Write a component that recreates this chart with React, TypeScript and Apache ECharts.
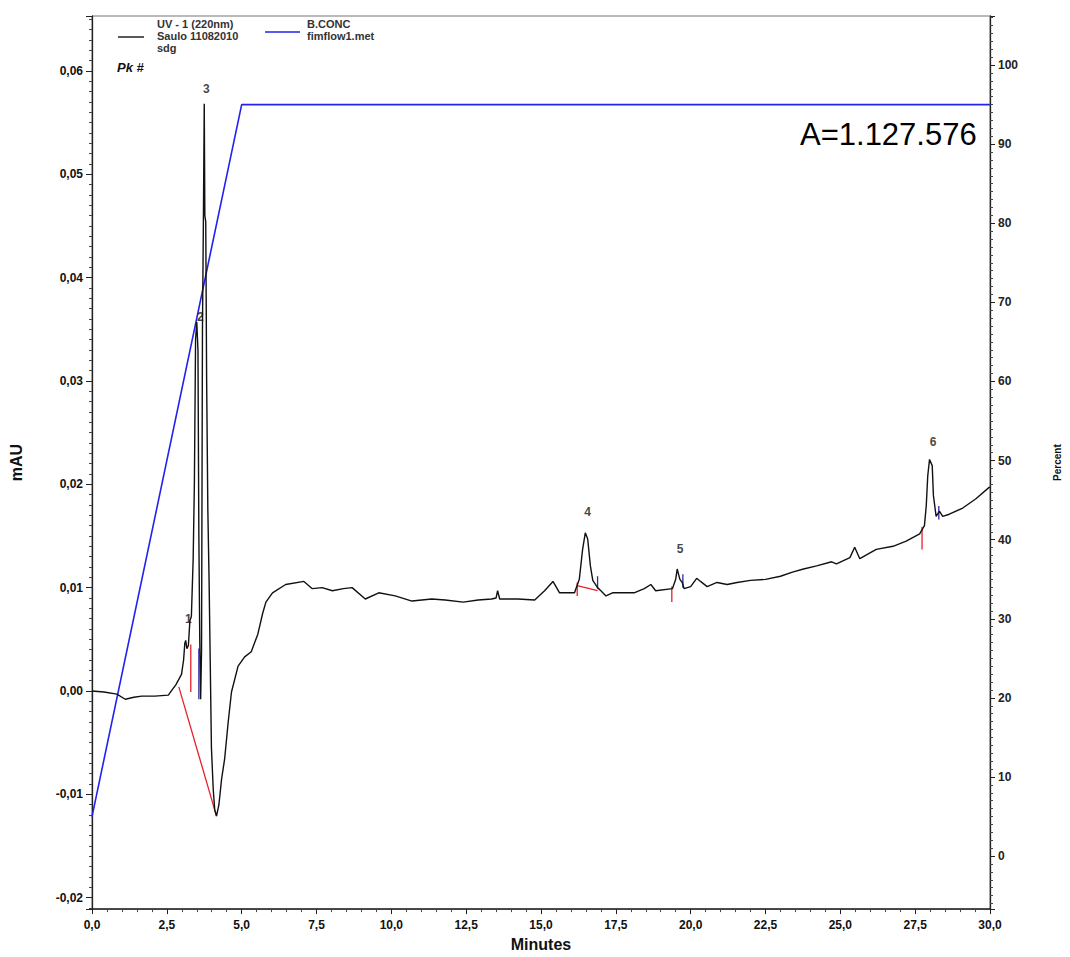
import React, { useEffect, useRef } from 'react';
import * as echarts from 'echarts';

// Chromatogram trace: UV-1 (220nm), retention time (min) vs absorbance (mAU)
const times = [
  0.0, 0.4, 0.83, 1.11, 1.4, 1.66, 2.1, 2.55, 2.7, 2.8, 2.99, 3.06, 3.1, 3.13, 3.17, 3.22, 3.27, 3.32,
  3.35, 3.38, 3.42, 3.46, 3.5, 3.54, 3.57, 3.6, 3.63, 3.66, 3.69, 3.72, 3.75, 3.77, 3.8, 3.83, 3.87,
  3.91, 3.95, 3.99, 4.05, 4.1, 4.16, 4.24, 4.33, 4.43, 4.55, 4.66, 4.88, 5.1, 5.32, 5.54, 5.7, 5.81,
  6.03, 6.47, 7.08, 7.36, 7.69, 8.03, 8.4, 8.69, 9.13, 9.58, 10.13, 10.69, 11.35, 11.8, 12.4, 12.9,
  13.35, 13.5, 13.55, 13.62, 14.23, 14.79, 15.12, 15.4, 15.62, 16.12, 16.28, 16.39, 16.48, 16.56,
  16.65, 16.73, 16.89, 17.0, 17.17, 17.39, 18.11, 18.45, 18.67, 18.83, 19.39, 19.5, 19.55, 19.64,
  19.72, 19.78, 20.0, 20.2, 20.33, 20.55, 20.88, 21.22, 21.55, 22.0, 22.5, 23.0, 23.4, 23.77, 24.21,
  24.71, 24.87, 25.32, 25.48, 25.65, 26.2, 26.76, 27.2, 27.65, 27.81, 27.87, 27.92, 27.98, 28.07,
  28.11, 28.2, 28.31, 28.42, 28.64, 29.09, 29.53, 29.97, 30.0,
];
const mau = [
  0.0, -0.0001, -0.0003, -0.0008, -0.0006, -0.0005, -0.0005, -0.0004, 0.0002, 0.0006, 0.0016, 0.003,
  0.0046, 0.0049, 0.0041, 0.0044, 0.0068, 0.0072, 0.01, 0.0128, 0.02, 0.034, 0.0357, 0.033, 0.015,
  0.005, -0.0008, 0.004, 0.035, 0.045, 0.0568, 0.046, 0.0454, 0.03, 0.0175, 0.011, 0.0028, -0.0055,
  -0.0095, -0.0115, -0.0121, -0.011, -0.0085, -0.0066, -0.003, -0.0001, 0.0024, 0.0033, 0.0038,
  0.0055, 0.0075, 0.0086, 0.0095, 0.0103, 0.0106, 0.0099, 0.01, 0.0097, 0.0099, 0.01, 0.0089, 0.0095,
  0.0092, 0.0087, 0.0089, 0.0088, 0.0086, 0.0088, 0.0089, 0.009, 0.0097, 0.0089, 0.0089, 0.0088,
  0.0097, 0.0106, 0.0095, 0.0095, 0.0108, 0.0137, 0.0153, 0.0147, 0.0121, 0.0107, 0.01, 0.0097,
  0.0092, 0.0095, 0.0095, 0.0099, 0.0103, 0.0097, 0.0099, 0.0108, 0.0118, 0.0108, 0.0105, 0.0099,
  0.0101, 0.0109, 0.0106, 0.0101, 0.0105, 0.0103, 0.0105, 0.0107, 0.0108, 0.0111, 0.0115, 0.0118,
  0.0121, 0.0125, 0.0123, 0.0129, 0.0139, 0.0128, 0.0137, 0.014, 0.0145, 0.0152, 0.016, 0.0179,
  0.0208, 0.0224, 0.0218, 0.0189, 0.0169, 0.0174, 0.0169, 0.0171, 0.0177, 0.0186, 0.0197, 0.0197,
];

// Gradient program B.CONC (percent)
const gradientTimes = [0, 5, 30];
const gradientPercent = [5, 95, 95];

// Peak numbers
const peakNames = ['1', '2', '3', '4', '5', '6'];
const peakTimes = [3.22, 3.62, 3.82, 16.56, 19.65, 28.1];
const peakValues = [0.007, 0.0362, 0.0582, 0.0173, 0.0137, 0.0241];

// Integration baselines / delimiters [t1, v1, t2, v2]
const redMarks = [
  [2.9, 0.0004, 4.16, -0.0121],
  [3.3, 0.0045, 3.3, -0.0001],
  [16.21, 0.0105, 16.21, 0.0092],
  [16.21, 0.0102, 16.89, 0.0097],
  [19.37, 0.0101, 19.37, 0.0086],
  [27.73, 0.0159, 27.73, 0.0137],
];
const blueMarks = [
  [3.57, 0.0041, 3.57, -0.0008],
  [16.89, 0.0111, 16.89, 0.0099],
  [19.74, 0.0113, 19.74, 0.01],
  [28.29, 0.0179, 28.29, 0.0166],
];

const xLabels = ['0,0', '2,5', '5,0', '7,5', '10,0', '12,5', '15,0', '17,5', '20,0', '22,5', '25,0', '27,5', '30,0'];

const NARROW = '"Liberation Sans Narrow", "Arial Narrow", "Liberation Sans", Arial, sans-serif';

export default function App() {
  const ref = useRef<HTMLDivElement>(null);
  useEffect(() => {
    const chart = echarts.init(ref.current!, null, { renderer: 'svg' });
    const markSeries = (marks: number[][], color: string) =>
      marks.map((m) => ({
        type: 'line',
        xAxisIndex: 0,
        yAxisIndex: 0,
        data: [
          [m[0], m[1]],
          [m[2], m[3]],
        ],
        showSymbol: false,
        symbol: 'none',
        silent: true,
        lineStyle: { color, width: 1.3 },
        z: 4,
      }));
    const option: any = {
      animation: false,
      backgroundColor: '#fff',
      grid: {
        left: 92,
        right: 76,
        top: 16,
        bottom: 47,
        show: true,
        borderColor: '#777',
        borderWidth: 1,
        backgroundColor: 'transparent',
      },
      xAxis: {
        type: 'value',
        min: 0,
        max: 30,
        interval: 2.5,
        name: 'Minutes',
        nameLocation: 'middle',
        nameGap: 26,
        nameTextStyle: { fontFamily: NARROW, fontWeight: 'bold', fontSize: 16, color: '#111' },
        axisLine: { show: true, onZero: false, lineStyle: { color: '#222', width: 1.5 } },
        axisTick: { show: true, length: 5, lineStyle: { color: '#222' } },
        minorTick: { show: true, splitNumber: 5, length: 3, lineStyle: { color: '#444' } },
        splitLine: { show: false },
        axisLabel: {
          margin: 10,
          fontFamily: NARROW,
          fontWeight: 'bold',
          fontSize: 12,
          color: '#111',
          formatter: (v: number) => {
            const i = Math.round(v / 2.5);
            return Math.abs(v - i * 2.5) < 1e-6 ? xLabels[i] ?? '' : '';
          },
        },
      },
      yAxis: [
        {
          type: 'value',
          position: 'left',
          min: -0.0211,
          max: 0.0653,
          minInterval: 0.01,
          maxInterval: 0.01,
          name: 'mAU',
          nameLocation: 'middle',
          nameGap: 68,
          nameRotate: 90,
          nameTextStyle: { fontFamily: NARROW, fontWeight: 'bold', fontSize: 16, color: '#111' },
          axisLine: { show: true, onZero: false, lineStyle: { color: '#222', width: 1.3 } },
          axisTick: { show: true, length: 6, lineStyle: { color: '#222' } },
          minorTick: { show: true, splitNumber: 10, length: 3, lineStyle: { color: '#444' } },
          splitLine: { show: false },
          axisLabel: {
            margin: 9,
            fontFamily: NARROW,
            fontWeight: 'bold',
            fontSize: 12,
            color: '#111',
            formatter: (v: number) => {
              const r = Math.round(v * 100);
              if (Math.abs(v * 100 - r) > 1e-6) return '';
              return (r / 100).toFixed(2).replace('.', ',');
            },
          },
        },
        {
          type: 'value',
          position: 'right',
          min: -6.7,
          max: 106.2,
          minInterval: 10,
          maxInterval: 10,
          name: 'Percent',
          nameLocation: 'middle',
          nameGap: 62,
          nameRotate: 90,
          nameTextStyle: { fontFamily: NARROW, fontWeight: 'bold', fontSize: 10, color: '#111' },
          axisLine: { show: true, onZero: false, lineStyle: { color: '#222', width: 1.3 } },
          axisTick: { show: true, length: 5, lineStyle: { color: '#222' } },
          minorTick: { show: true, splitNumber: 10, length: 3, lineStyle: { color: '#444' } },
          splitLine: { show: false },
          axisLabel: {
            margin: 8,
            fontFamily: NARROW,
            fontWeight: 'bold',
            fontSize: 12,
            color: '#222',
            formatter: (v: number) => {
              const r = Math.round(v / 10) * 10;
              return Math.abs(v - r) < 1e-6 ? String(r) : '';
            },
          },
        },
      ],
      series: [
        {
          type: 'line',
          name: 'B.CONC',
          xAxisIndex: 0,
          yAxisIndex: 1,
          data: gradientTimes.map((t, i) => [t, gradientPercent[i]]),
          showSymbol: false,
          symbol: 'none',
          lineStyle: { color: '#2222ee', width: 1.6 },
          z: 3,
        },
        {
          type: 'line',
          name: 'UV - 1 (220nm)',
          xAxisIndex: 0,
          yAxisIndex: 0,
          data: times.map((t, i) => [t, mau[i]]),
          showSymbol: false,
          symbol: 'none',
          lineStyle: { color: '#111', width: 1.4 },
          z: 5,
        },
        ...markSeries(redMarks, '#e8202a'),
        ...markSeries(blueMarks, '#2a2aa8'),
        {
          type: 'scatter',
          xAxisIndex: 0,
          yAxisIndex: 0,
          data: peakNames.map((n, i) => ({ name: n, value: [peakTimes[i], peakValues[i]] })),
          symbolSize: 2,
          itemStyle: { color: 'rgba(0,0,0,0)' },
          silent: true,
          label: {
            show: true,
            position: 'inside',
            formatter: (p: any) => p.name,
            fontFamily: NARROW,
            fontWeight: 'bold',
            fontSize: 12,
            color: '#111',
          },
          z: 6,
        },
      ],
      graphic: [
        { type: 'line', shape: { x1: 118, y1: 37, x2: 144, y2: 37 }, style: { stroke: '#222', lineWidth: 1.5 } },
        {
          type: 'text',
          x: 157,
          y: 24,
          style: { text: 'UV - 1 (220nm)', fontFamily: NARROW, fontWeight: 'bold', fontSize: 11, fill: '#333', verticalAlign: 'middle' },
        },
        {
          type: 'text',
          x: 157,
          y: 36,
          style: { text: 'Saulo 11082010', fontFamily: NARROW, fontWeight: 'bold', fontSize: 11, fill: '#333', verticalAlign: 'middle' },
        },
        {
          type: 'text',
          x: 157,
          y: 48,
          style: { text: 'sdg', fontFamily: NARROW, fontWeight: 'bold', fontSize: 11, fill: '#333', verticalAlign: 'middle' },
        },
        { type: 'line', shape: { x1: 265, y1: 32, x2: 300, y2: 32 }, style: { stroke: '#2222ee', lineWidth: 1.5 } },
        {
          type: 'text',
          x: 307,
          y: 24,
          style: { text: 'B.CONC', fontFamily: NARROW, fontWeight: 'bold', fontSize: 11, fill: '#333', verticalAlign: 'middle' },
        },
        {
          type: 'text',
          x: 307,
          y: 36,
          style: { text: 'fimflow1.met', fontFamily: NARROW, fontWeight: 'bold', fontSize: 11, fill: '#333', verticalAlign: 'middle' },
        },
        {
          type: 'text',
          x: 117,
          y: 67,
          style: { text: 'Pk #', fontFamily: NARROW, fontWeight: 'bold', fontStyle: 'italic', fontSize: 13, fill: '#111', verticalAlign: 'middle' },
        },
        {
          type: 'text',
          x: 800,
          y: 134,
          style: { text: 'A=1.127.576', fontFamily: '"Liberation Sans", Arial, sans-serif', fontSize: 31, fill: '#000', verticalAlign: 'middle' },
        },
      ],
    };
    chart.setOption(option);
    return () => chart.dispose();
  }, []);
  return (
    <div
      ref={ref}
      style={{ position: 'fixed', left: 0, top: 0, width: 1070, height: 957, background: '#fff' }}
    />
  );
}
